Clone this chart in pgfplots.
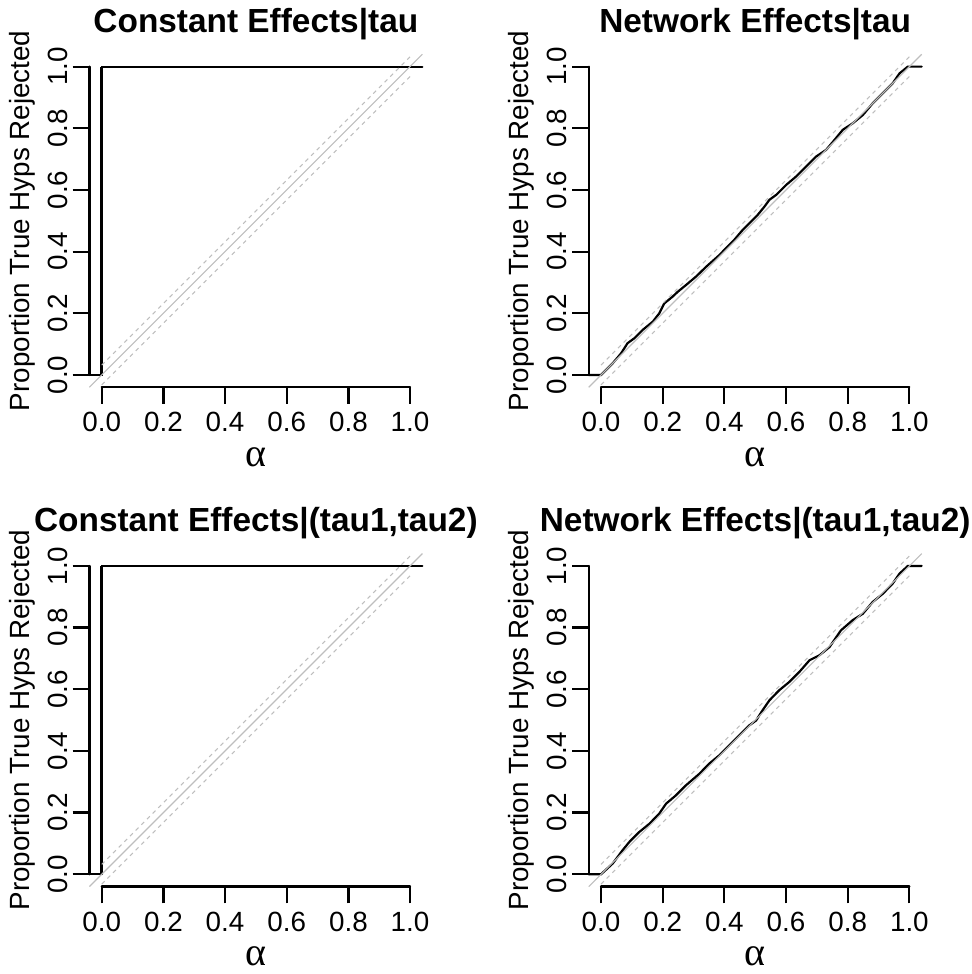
\documentclass[border=0pt]{standalone}
\usepackage{fontspec}
\setmainfont{Liberation Sans}
\newfontfamily\grk{Liberation Serif}
\usepackage{pgfplots}
\pgfplotsset{compat=1.18}
\definecolor{rgray}{HTML}{BEBEBE}

\pgfplotstableread{
x y
-0.04 0
0 0
0 1
1.04 1
}\consttab

\pgfplotstableread{
x y
-0.04 0
0 0
0.038 0.038
0.065 0.070
0.086 0.103
0.108 0.119
0.135 0.146
0.168 0.173
0.189 0.200
0.205 0.232
0.232 0.254
0.249 0.270
0.276 0.292
0.308 0.319
0.341 0.351
0.384 0.389
0.405 0.411
0.432 0.438
0.459 0.470
0.481 0.492
0.508 0.519
0.530 0.546
0.546 0.568
0.568 0.584
0.600 0.616
0.632 0.643
0.665 0.676
0.697 0.708
0.730 0.730
0.757 0.762
0.784 0.795
0.816 0.816
0.849 0.843
0.881 0.881
0.914 0.914
0.946 0.946
0.968 0.978
0.995 1.000
1.04 1.000
}\nettau

\pgfplotstableread{
x y
-0.04 0
0 0
0.038 0.035
0.070 0.078
0.092 0.105
0.124 0.137
0.157 0.164
0.189 0.197
0.211 0.229
0.243 0.256
0.276 0.289
0.319 0.326
0.351 0.359
0.384 0.386
0.416 0.418
0.449 0.451
0.481 0.483
0.503 0.499
0.524 0.532
0.546 0.564
0.578 0.597
0.611 0.624
0.643 0.656
0.676 0.694
0.708 0.710
0.741 0.737
0.778 0.791
0.816 0.824
0.849 0.845
0.881 0.883
0.914 0.910
0.946 0.943
0.968 0.975
0.995 1.000
1.04 1.000
}\nettautwo

\pgfplotsset{rpanel/.style={
  scale only axis, width=166.5pt, height=166.5pt,
  xmin=-0.04, xmax=1.04, ymin=-0.04, ymax=1.04,
  axis x line*=bottom, axis y line*=left,
  axis line style={draw=none},
  xtick={0,0.2,0.4,0.6,0.8,1}, ytick={0,0.2,0.4,0.6,0.8,1},
  xticklabels={0.0,0.2,0.4,0.6,0.8,1.0},
  yticklabels={0.0,0.2,0.4,0.6,0.8,1.0},
  tick align=outside, major tick length=8.35pt,
  every tick/.style={black, line width=1.1pt},
  ticklabel style={font=\fontsize{13.9}{16}\selectfont},
  xticklabel style={anchor=base, yshift=-14pt},
  yticklabel style={rotate=90, anchor=base, yshift=2.7pt},
  clip=false,
  every axis title shift=0pt,
  title style={font=\fontsize{16.7}{19}\selectfont\bfseries, at={(axis description cs:0.5,1)}, anchor=base, yshift=11pt},
  xlabel={\grk α},
  xlabel style={font=\fontsize{20}{22}\selectfont, at={(axis description cs:0.5,0)}, anchor=base, yshift=-39.5pt},
  ylabel={Proportion True Hyps Rejected},
  ylabel style={font=\fontsize{13.9}{16}\selectfont, at={(axis description cs:0,0.5)}, anchor=base, yshift=30.1pt},
}}

\begin{document}
\begin{tikzpicture}
\path[use as bounding box] (0,0) rectangle (486pt,487pt);

\begin{axis}[rpanel, at={(44.7pt,293.35pt)}, anchor=south west, title={Constant Effects|tau}]
\addplot[black, line width=1.1pt, line cap=round] table {\consttab};
\addplot[black, line width=1.7pt] coordinates {(0,0) (0,1)};
\addplot[rgray, line width=0.55pt] coordinates {(-0.04,-0.04) (1.04,1.04)};
\addplot[rgray, line width=0.55pt, dash pattern=on 2pt off 2pt] coordinates {(0,0.032) (1,1.032)};
\addplot[rgray, line width=0.55pt, dash pattern=on 2pt off 2pt] coordinates {(0,-0.032) (1,0.968)};
\draw[line width=1.1pt, line cap=round] (axis cs:0,-0.04) -- (axis cs:1,-0.04);
\draw[line width=1.1pt, line cap=round] (axis cs:-0.04,0) -- (axis cs:-0.04,1);
\end{axis}

\begin{axis}[rpanel, at={(294.35pt,293.35pt)}, anchor=south west, title={Network Effects|tau}]
\addplot[black, line width=1.1pt, line cap=round] table {\nettau};
\addplot[rgray, line width=0.55pt] coordinates {(-0.04,-0.04) (1.04,1.04)};
\addplot[rgray, line width=0.55pt, dash pattern=on 2pt off 2pt] coordinates {(0,0.032) (1,1.032)};
\addplot[rgray, line width=0.55pt, dash pattern=on 2pt off 2pt] coordinates {(0,-0.032) (1,0.968)};
\draw[line width=1.1pt, line cap=round] (axis cs:0,-0.04) -- (axis cs:1,-0.04);
\draw[line width=1.1pt, line cap=round] (axis cs:-0.04,0) -- (axis cs:-0.04,1);
\end{axis}

\begin{axis}[rpanel, at={(44.7pt,43.7pt)}, anchor=south west, title={Constant Effects|(tau1,tau2)}]
\addplot[black, line width=1.1pt, line cap=round] table {\consttab};
\addplot[black, line width=1.7pt] coordinates {(0,0) (0,1)};
\addplot[rgray, line width=0.55pt] coordinates {(-0.04,-0.04) (1.04,1.04)};
\addplot[rgray, line width=0.55pt, dash pattern=on 2pt off 2pt] coordinates {(0,0.032) (1,1.032)};
\addplot[rgray, line width=0.55pt, dash pattern=on 2pt off 2pt] coordinates {(0,-0.032) (1,0.968)};
\draw[line width=1.1pt, line cap=round] (axis cs:0,-0.04) -- (axis cs:1,-0.04);
\draw[line width=1.1pt, line cap=round] (axis cs:-0.04,0) -- (axis cs:-0.04,1);
\end{axis}

\begin{axis}[rpanel, at={(294.35pt,43.7pt)}, anchor=south west, title={Network Effects|(tau1,tau2)}]
\addplot[black, line width=1.1pt, line cap=round] table {\nettautwo};
\addplot[rgray, line width=0.55pt] coordinates {(-0.04,-0.04) (1.04,1.04)};
\addplot[rgray, line width=0.55pt, dash pattern=on 2pt off 2pt] coordinates {(0,0.032) (1,1.032)};
\addplot[rgray, line width=0.55pt, dash pattern=on 2pt off 2pt] coordinates {(0,-0.032) (1,0.968)};
\draw[line width=1.1pt, line cap=round] (axis cs:0,-0.04) -- (axis cs:1,-0.04);
\draw[line width=1.1pt, line cap=round] (axis cs:-0.04,0) -- (axis cs:-0.04,1);
\end{axis}
\end{tikzpicture}
\end{document}
